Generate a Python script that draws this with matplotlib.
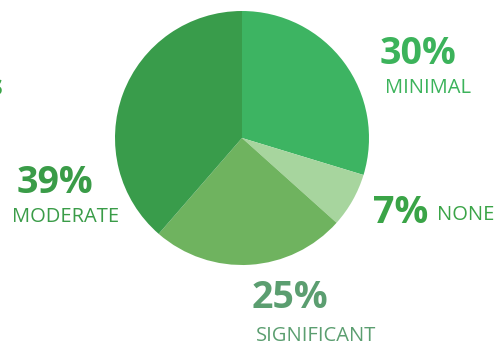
import matplotlib.pyplot as plt

labels = ["MINIMAL", "NONE", "SIGNIFICANT", "MODERATE"]
values = [30, 7, 25, 39]
pie_colors = ["#3db462", "#a7d59e", "#6fb35f", "#399c4b"]
pct_colors = ["#3cb35b", "#3aa447", "#5b9e70", "#3a9c48"]
lab_colors = ["#3cb35b", "#3aa447", "#5b9e70", "#3a9c48"]

W, H = 500, 344
fig = plt.figure(figsize=(5, 3.44), dpi=100)
ax = fig.add_axes([0, 0, 1, 1])

ax.pie(values, colors=pie_colors, startangle=90, counterclock=False,
       center=(242, H - 138), radius=127, frame=True,
       wedgeprops=dict(linewidth=0))
ax.set_xlim(0, W)
ax.set_ylim(0, H)
ax.set_aspect("equal")
ax.axis("off")

fam = ["Open Sans", "DejaVu Sans"]
big = 27
small = 14.5

# (pct x, pct baseline y, label x, label baseline y) in image pixels
pos = {
    "MINIMAL": (380, 64, 385, 93),
    "NONE": (373, 223, 437, 220),
    "SIGNIFICANT": (252, 308, 256, 341),
    "MODERATE": (17, 193, 12, 222),
}
for lab, v, pc, lc in zip(labels, values, pct_colors, lab_colors):
    px, py, lx, ly = pos[lab]
    ax.text(px, H - py, f"{v}%", fontsize=big, fontweight="bold", color=pc,
            family=fam, ha="left", va="baseline")
    ax.text(lx, H - ly, lab, fontsize=small, color=lc, family=fam,
            ha="left", va="baseline")

# text cut off at the left edge of the original
ax.text(-11, H - 95, "s", fontsize=20, fontweight="bold", color="#3aa447",
        family=fam, ha="left", va="baseline")

fig.savefig("out.png", dpi=100)
